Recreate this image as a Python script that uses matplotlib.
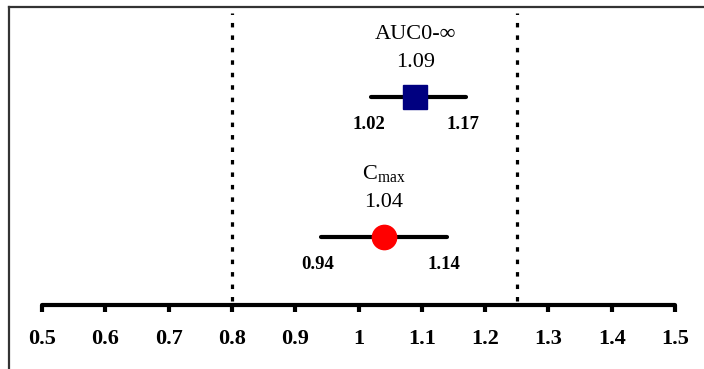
import matplotlib
matplotlib.use("Agg")
import matplotlib.pyplot as plt
from matplotlib.lines import Line2D

plt.rcParams['font.family'] = ['Liberation Serif', 'DejaVu Serif']
plt.rcParams['mathtext.fontset'] = 'custom'
plt.rcParams['mathtext.rm'] = 'Liberation Serif'

# ratio estimates with 90% CI
names = ['AUC0-\u221e', r'$\mathrm{C}_{\mathrm{max}}$']
point = [1.09, 1.04]
lower = [1.02, 0.94]
upper = [1.17, 1.14]
rows = [2, 1]
markers = ['s', 'o']
colors = ['#000080', '#ff0000']

limits = [0.8, 1.25]
ticks = [0.5, 0.6, 0.7, 0.8, 0.9, 1.0, 1.1, 1.2, 1.3, 1.4, 1.5]
tick_labels = ['0.5', '0.6', '0.7', '0.8', '0.9', '1', '1.1', '1.2', '1.3', '1.4', '1.5']

fig = plt.figure(figsize=(7.04, 3.69), dpi=100)
ax = fig.add_axes([42 / 704, 64 / 369, 633 / 704, 305 / 369])
ax.set_xlim(0.5, 1.5)
ax.set_ylim(0.514, 0.514 + 305 / 140)

for x in limits:
    ax.plot([x, x], [0.54, 2.6], color='black', lw=2.3,
            linestyle=(0, (1.4, 2.5)), dash_capstyle='butt')

for i in range(len(point)):
    y = rows[i]
    ax.plot([lower[i], upper[i]], [y, y], color='black', lw=3,
            solid_capstyle='round', zorder=2)
    ax.plot(point[i], y, marker=markers[i], color=colors[i],
            markersize=17 if markers[i] == 's' else 17.5, zorder=3)
    ax.annotate(names[i], (point[i], y), xytext=(0, 45), textcoords='offset points',
                ha='center', va='center', fontsize=16)
    ax.annotate(f'{point[i]:.2f}', (point[i], y), xytext=(0, 24.5),
                textcoords='offset points', ha='center', va='center', fontsize=16)
    ax.annotate(f'{lower[i]:.2f}', (lower[i], y), xytext=(-2, -19.5),
                textcoords='offset points', ha='center', va='center',
                fontsize=13.5, fontweight='bold')
    ax.annotate(f'{upper[i]:.2f}', (upper[i], y), xytext=(-2, -19.5),
                textcoords='offset points', ha='center', va='center',
                fontsize=13.5, fontweight='bold')

for side in ['top', 'right', 'left']:
    ax.spines[side].set_visible(False)
ax.spines['bottom'].set_linewidth(3)
ax.spines['bottom'].set_bounds(0.5, 1.5)
ax.spines['bottom'].set_capstyle('round')
ax.set_yticks([])
ax.set_xticks(ticks)
ax.set_xticklabels(tick_labels, fontsize=16, fontweight='bold')
ax.tick_params(axis='x', direction='out', length=5, width=3, pad=12)
ax.patch.set_visible(False)

# frame lines along the left and top edges
fig.add_artist(Line2D([8.5 / 704, 8.5 / 704], [0, 1 - 6.5 / 369],
                      transform=fig.transFigure, color='#333333', lw=1.6))
fig.add_artist(Line2D([8.5 / 704, 1], [1 - 6.5 / 369, 1 - 6.5 / 369],
                      transform=fig.transFigure, color='#333333', lw=1.6))

fig.savefig('out.png', dpi=100)
